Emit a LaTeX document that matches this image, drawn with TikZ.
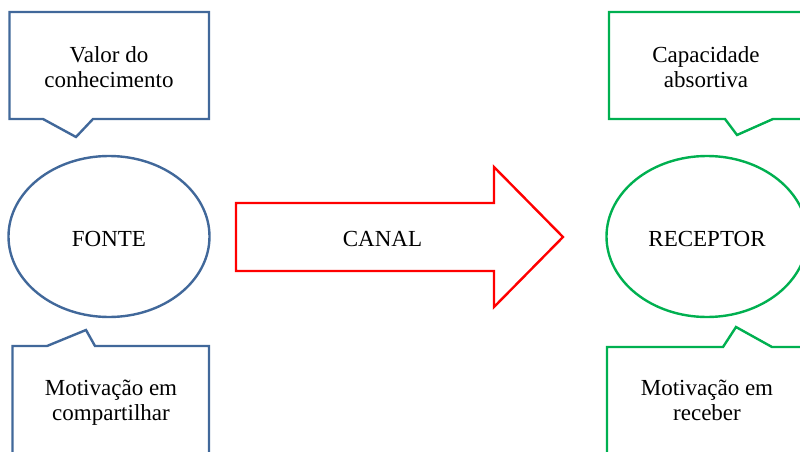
\documentclass[tikz,border=0pt]{standalone}
\usepackage{fontspec}
\setmainfont{Liberation Serif}
\usetikzlibrary{shapes.geometric}
\definecolor{fblue}{HTML}{41689A}
\definecolor{fgreen}{HTML}{00B050}
\definecolor{fred}{HTML}{FF0000}
\tikzset{
  outline/.style={line width=2.4pt, line join=miter},
  txt/.style={font=\fontsize{23}{25}\selectfont, align=center, inner sep=0pt},
  bubble/.style={ellipse, draw, line width=2.4pt, minimum width=201pt, minimum height=161pt, inner sep=0pt}
}
\begin{document}
\begin{tikzpicture}[x=1pt,y=-1pt]
\useasboundingbox (0,0) rectangle (800,452);
\clip (0,0) rectangle (800,452);
% callouts
\draw[outline, fblue] (9.5,12) -- (209,12) -- (209,119) -- (93,119) -- (76,137) -- (43,119) -- (9.5,119) -- cycle;
\draw[outline, fblue] (12.5,470) -- (12.5,346) -- (47,346) -- (86,330) -- (95,346) -- (209,346) -- (209,470);
\draw[outline, fgreen] (815,12) -- (609,12) -- (609,119) -- (725,119) -- (737,135) -- (773,119) -- (815,119);
\draw[outline, fgreen] (607,470) -- (607,347) -- (723,347) -- (736,327) -- (772,347) -- (815,347);
% arrow
\draw[outline, fred] (236,203) -- (494,203) -- (494,167) -- (563,237) -- (494,307) -- (494,271) -- (236,271) -- cycle;
% ellipses
\node[bubble, draw=fblue] (fonte) at (109,236.5) {};
\node[bubble, draw=fgreen] (receptor) at (707,236.5) {};
% texts
\node[txt] (tfonte) at (109,239) {FONTE};
\node[txt] (treceptor) at (707,239) {RECEPTOR};
\node[txt] (canal) at (382.5,238.5) {CANAL};
\node[txt] (valor) at (109,67) {Valor do\\conhecimento};
\node[txt] (capac) at (706,67) {Capacidade\\absortiva};
\node[txt] (motc) at (111,402.5) {Motivação em\\compartilhar};
\node[txt] (motr) at (707,400.5) {Motivação em\\receber};
\end{tikzpicture}
\end{document}
